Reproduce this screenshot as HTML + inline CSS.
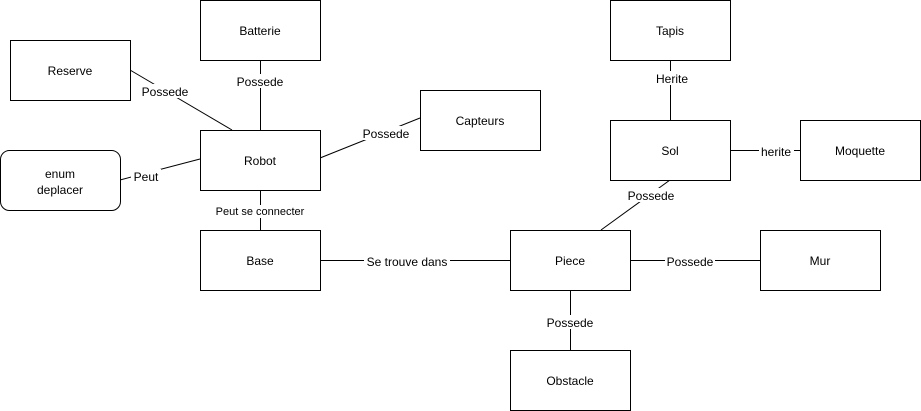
<!DOCTYPE html>
<html><head><meta charset="utf-8"><style>
html,body{margin:0;padding:0;background:#fff;}
svg{display:block;font-family:"Liberation Sans",Arial,sans-serif;font-size:12px;}
</style></head><body>
<svg width="921" height="411" viewBox="0 0 921 411" xmlns="http://www.w3.org/2000/svg">
<g stroke="#000" stroke-width="1" fill="none">
<line x1="130" y1="70" x2="232" y2="130"/>
<line x1="260.5" y1="60" x2="260.5" y2="130"/>
<line x1="320" y1="158" x2="420" y2="118"/>
<line x1="120" y1="180" x2="200" y2="159"/>
<line x1="260.5" y1="190" x2="260.5" y2="230"/>
<line x1="320" y1="260.5" x2="510" y2="260.5"/>
<line x1="630" y1="260.5" x2="760" y2="260.5"/>
<line x1="570.5" y1="290" x2="570.5" y2="350"/>
<line x1="670" y1="180" x2="601" y2="230"/>
<line x1="670.5" y1="60" x2="670.5" y2="120"/>
<line x1="730" y1="150.5" x2="800" y2="150.5"/>
</g>
<g stroke="#000" stroke-width="1" fill="#fff">
<rect x="200.5" y="0.5" width="120" height="60"/>
<rect x="10.5" y="40.5" width="120" height="60"/>
<rect x="200.5" y="130.5" width="120" height="60"/>
<rect x="420.5" y="90.5" width="120" height="60"/>
<rect x="0.5" y="150.5" width="120" height="60" rx="9"/>
<rect x="200.5" y="230.5" width="120" height="60"/>
<rect x="510.5" y="230.5" width="120" height="60"/>
<rect x="760.5" y="230.5" width="120" height="60"/>
<rect x="510.5" y="350.5" width="120" height="60"/>
<rect x="610.5" y="0.5" width="120" height="60"/>
<rect x="610.5" y="120.5" width="120" height="60"/>
<rect x="800.5" y="120.5" width="120" height="60"/>
</g>
<g text-anchor="middle" fill="#000">
<text x="260" y="35">Batterie</text>
<text x="70" y="75">Reserve</text>
<text x="260" y="165">Robot</text>
<text x="480" y="125">Capteurs</text>
<text x="60" y="178">enum</text>
<text x="60" y="194">deplacer</text>
<text x="260" y="265">Base</text>
<text x="570" y="265">Piece</text>
<text x="820" y="265">Mur</text>
<text x="570" y="385">Obstacle</text>
<text x="670" y="35">Tapis</text>
<text x="670" y="155">Sol</text>
<text x="860" y="155">Moquette</text>
</g>
<g text-anchor="middle" fill="#000">
<rect x="140" y="84" width="50" height="14" fill="#fff"/><text x="165" y="96">Possede</text>
<rect x="235" y="74" width="50" height="14" fill="#fff"/><text x="260" y="86">Possede</text>
<rect x="361" y="126" width="50" height="14" fill="#fff"/><text x="386" y="138">Possede</text>
<rect x="131" y="169" width="30" height="14" fill="#fff"/><text x="146" y="181">Peut</text>
<rect x="215" y="205" width="92" height="13" fill="#fff"/><text x="260" y="215" font-size="11">Peut se connecter</text>
<rect x="364" y="254" width="86" height="14" fill="#fff"/><text x="407" y="266">Se trouve dans</text>
<rect x="665" y="254" width="50" height="14" fill="#fff"/><text x="690" y="266">Possede</text>
<rect x="545" y="315" width="50" height="14" fill="#fff"/><text x="570" y="327">Possede</text>
<rect x="626" y="188" width="50" height="14" fill="#fff"/><text x="651" y="200">Possede</text>
<rect x="654" y="71" width="36" height="14" fill="#fff"/><text x="672" y="83">Herite</text>
<rect x="759" y="144" width="35" height="14" fill="#fff"/><text x="776" y="156">herite</text>
</g>
</svg>
</body></html>
